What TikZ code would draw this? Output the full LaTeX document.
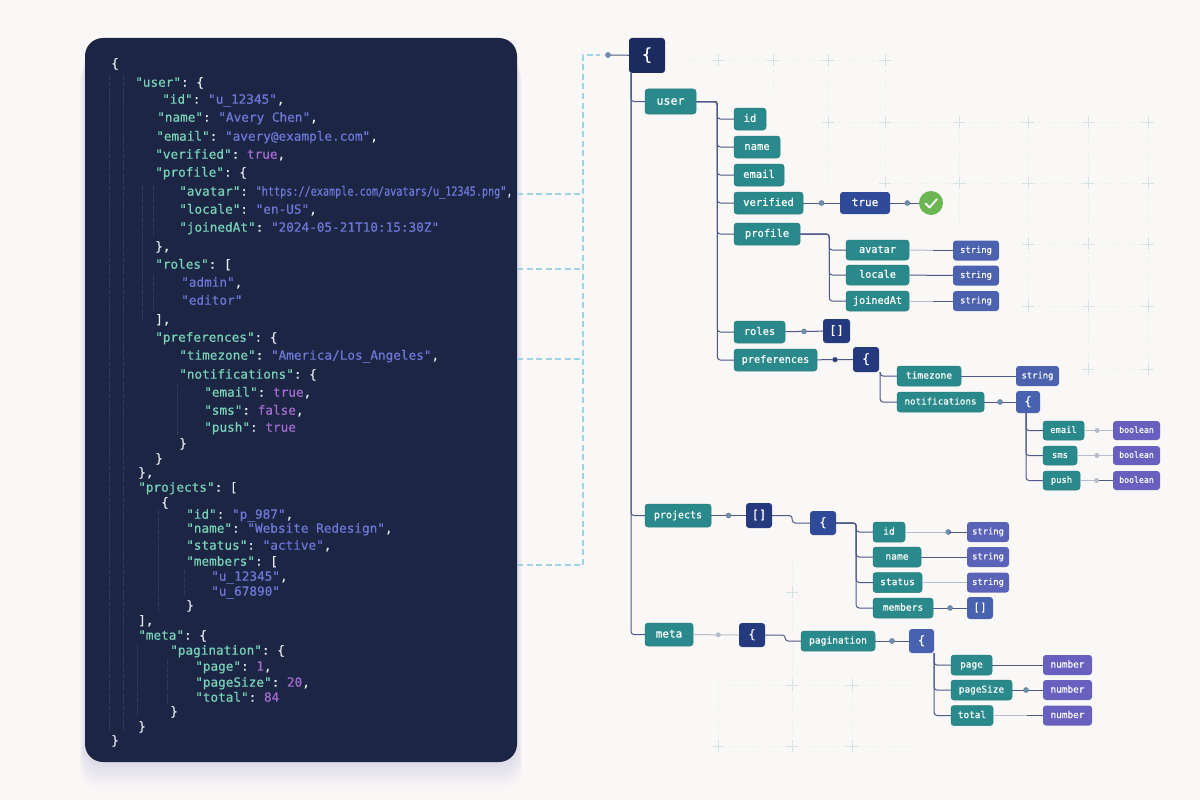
\documentclass[tikz,border=0pt]{standalone}
\usepackage{fontspec}
\setmonofont[FakeBold=0.5]{DejaVu Sans Mono}
\usetikzlibrary{calc}

\definecolor{paper}{HTML}{FAF8F6}
\definecolor{cardfill}{HTML}{1C2544}
\definecolor{jsonkey}{HTML}{79D3B8}
\definecolor{jsonstr}{HTML}{6E78D6}
\definecolor{jsonval}{HTML}{A56CD0}
\definecolor{jsonpunc}{HTML}{E6E9EE}
\definecolor{keyteal}{HTML}{2A8A8B}
\definecolor{navyA}{HTML}{1C2B5E}
\definecolor{navyB}{HTML}{25397F}
\definecolor{navyC}{HTML}{2F4A98}
\definecolor{navyD}{HTML}{4862B0}
\definecolor{strbox}{HTML}{4C62AF}
\definecolor{strboxb}{HTML}{5B63B9}
\definecolor{purplebox}{HTML}{6860BE}
\definecolor{wiredark}{HTML}{2E3C72}
\definecolor{wirelight}{HTML}{B4BDCC}
\definecolor{dashblue}{HTML}{9FD3DF}
\definecolor{gridpale}{HTML}{E8EFEC}
\definecolor{gridplus}{HTML}{D5E4E1}
\definecolor{dotblue}{HTML}{6C93AB}
\definecolor{okgreen}{HTML}{6CB651}

\newcommand{\jk}[1]{\textcolor{jsonkey}{"#1"}:}
\newcommand{\js}[1]{\textcolor{jsonstr}{"#1"}}
\newcommand{\jv}[1]{\textcolor{jsonval}{#1}}
\newcommand{\gridmark}[2]{\draw[gridplusline] (#1-6,#2) -- (#1+6,#2) (#1,#2-6) -- (#1,#2+6);}

\tikzset{
  codeline/.style={anchor=west,inner sep=0pt,text height=11pt,text depth=1.6pt,text=jsonpunc,
                   font=\ttfamily\fontsize{12.7}{13}\selectfont},
  gridline/.style={gridpale,line width=.6pt,dash pattern=on 2pt off 3pt},
  gridplusline/.style={gridplus,line width=.8pt},
  guide/.style={white!9!cardfill,line width=.6pt,dash pattern=on 5pt off 1.5pt},
  sidelink/.style={dashblue,line width=1.1pt,dash pattern=on 6pt off 3.5pt},
  box/.style={rounded corners=3pt,inner sep=0pt,text=white,minimum height=#1},
  keybox/.style={box=#1,fill=keyteal,draw=keyteal!90!black,line width=.5pt},
  fs/.style={font=\ttfamily\fontsize{#1}{#1}\selectfont,text height={.72*#1},text depth={.17*#1}},
  dot/.style={circle,inner sep=0pt,minimum size=5pt,fill=#1,draw=wiredark!70,line width=.5pt},
  dot/.default=dotblue,
  softdot/.style={circle,inner sep=0pt,minimum size=5pt,fill=wirelight},
  wire/.style={wiredark!85,line width=1pt,rounded corners=3pt},
  softwire/.style={wirelight,line width=1pt,rounded corners=3pt},
  elbow/.style={to path={-- ++(#1,0) |- (\tikztotarget)}},
  drop/.style={to path={|- (\tikztotarget)}},
}

\begin{document}
\begin{tikzpicture}[x=1pt,y=-1pt]
\useasboundingbox (0,0) rectangle (1200,800);
\fill[paper] (0,0) rectangle (1200,800);

% background grid
\draw[gridline] (688,60) -- (885,60);
\draw[gridline] (773,60) -- (773,100);
\foreach \gx in {828,885} \draw[gridline] (\gx,60) -- (\gx,185);
\draw[gridline] (828,122) -- (1148,122);
\draw[gridline] (885,183) -- (1148,183);
\draw[gridline] (1028,244) -- (1148,244);
\draw[gridline] (1028,306) -- (1148,306);
\draw[gridline] (1088,369) -- (1148,369);
\draw[gridline] (959,122) -- (959,230);
\draw[gridline] (1028,122) -- (1028,306);
\foreach \gx in {1088,1148} \draw[gridline] (\gx,122) -- (\gx,380);
\draw[gridline] (718,685) -- (912,685);
\draw[gridline] (718,746) -- (912,746);
\draw[gridline] (718,685) -- (718,750);
\draw[gridline] (792,555) -- (792,750);
\draw[gridline] (852,685) -- (852,750);
\foreach \gx/\gy in {718/60,773/60,828/60,885/60,828/122,885/122,959/122,1028/122,1088/122,1148/122,885/183,959/183,1028/183,1088/183,1148/183,1028/244,1088/244,1148/244,1028/306,1088/306,1148/306,1088/369,1148/369,792/592,792/685,852/685,718/746,792/746,852/746} {\gridmark{\gx}{\gy}}

% card with soft shadow
\foreach \s in {1,...,14}
  \fill[navyB,opacity=.009,rounded corners=20pt] (85-.4*\s,38+2*\s) rectangle (517+.4*\s,762+2*\s);
\fill[cardfill,rounded corners=18pt] (85,38) rectangle (517,762);

% indent guides
\draw[guide] (109,75) -- (109,730);
\draw[guide] (123,75) -- (123,730);
\draw[guide] (142,185) -- (142,320);
\draw[guide] (153,185) -- (153,236);
\draw[guide] (153,275) -- (153,312);
\draw[guide] (177,384) -- (177,435);
\draw[guide] (158,510) -- (158,611);
\draw[guide] (184,570) -- (184,595);
\draw[guide] (137,645) -- (137,716);
\draw[guide] (167,660) -- (167,705);

% json text
\node[codeline] (l01) at (111,63) {\{};
\node[codeline] (l02) at (135,82) {\jk{user} \{};
\node[codeline] (l03) at (162,99) {\jk{id} \js{u\_12345},};
\node[codeline] (l04) at (157,117) {\jk{name} \js{Avery Chen},};
\node[codeline] (l05) at (156,136) {\jk{email} \js{avery@example.com},};
\node[codeline] (l06) at (155,154) {\jk{verified} \jv{true},};
\node[codeline] (l07) at (155,172) {\jk{profile} \{};
\node[codeline] (l08) at (179,191) {\jk{avatar} \scalebox{.8}[1]{\js{https://example.com/avatars/u\_12345.png},}};
\node[codeline] (l09) at (179,209) {\jk{locale} \js{en-US},};
\node[codeline] (l10) at (179,227) {\jk{joinedAt} \js{2024-05-21T10:15:30Z}};
\node[codeline] (l11) at (155,246) {\},};
\node[codeline] (l12) at (155,264) {\jk{roles} [};
\node[codeline] (l13) at (181,282) {\js{admin},};
\node[codeline] (l14) at (181,300) {\js{editor}};
\node[codeline] (l15) at (155,319) {],};
\node[codeline] (l16) at (155,337) {\jk{preferences} \{};
\node[codeline] (l17) at (179,355) {\jk{timezone} \js{America/Los\_Angeles},};
\node[codeline] (l18) at (179,374) {\jk{notifications} \{};
\node[codeline] (l19) at (204,392) {\jk{email} \jv{true},};
\node[codeline] (l20) at (204,410) {\jk{sms} \jv{false},};
\node[codeline] (l21) at (204,427) {\jk{push} \jv{true}};
\node[codeline] (l22) at (179,443) {\}};
\node[codeline] (l23) at (155,458) {\}};
\node[codeline] (l24) at (138,472) {\},};
\node[codeline] (l25) at (138,487) {\jk{projects} [};
\node[codeline] (l26) at (161,502) {\{};
\node[codeline] (l27) at (186,514) {\jk{id} \js{p\_987},};
\node[codeline] (l28) at (186,528) {\jk{name} \js{Website Redesign},};
\node[codeline] (l29) at (186,545) {\jk{status} \js{active},};
\node[codeline] (l30) at (186,561) {\jk{members} [};
\node[codeline] (l31) at (211,576) {\js{u\_12345},};
\node[codeline] (l32) at (211,591) {\js{u\_67890}};
\node[codeline] (l33) at (186,605) {\}};
\node[codeline] (l34) at (138,620) {],};
\node[codeline] (l35) at (138,635) {\jk{meta} \{};
\node[codeline] (l36) at (170,650) {\jk{pagination} \{};
\node[codeline] (l37) at (195,666) {\jk{page} \jv{1},};
\node[codeline] (l38) at (195,682) {\jk{pageSize} \jv{20},};
\node[codeline] (l39) at (195,697) {\jk{total} \jv{84}};
\node[codeline] (l40) at (170,711) {\}};
\node[codeline] (l41) at (138,726) {\}};
\node[codeline] (l42) at (111,740) {\}};

% tree nodes
\node[box=35pt,fill=navyA,minimum width=36pt,fs=17] (root) at (647,55.5) {\{};
\node[keybox=25pt,minimum width=51pt,fs=11.6] (user) at (670.5,101.5) {user};
\node[keybox=22pt,minimum width=32pt,fs=10.5] (uid) at (750,119) {id};
\node[keybox=22pt,minimum width=46pt,fs=10.5] (uname) at (757,147) {name};
\node[keybox=22pt,minimum width=50pt,fs=10.5] (uemail) at (759,175) {email};
\node[keybox=22pt,minimum width=69pt,fs=10.5] (uverified) at (768.5,203) {verified};
\node[box=22pt,fill=navyC,minimum width=50pt,fs=11] (vtrue) at (865,203) {true};
\node[circle,fill=okgreen,minimum size=24pt,inner sep=0pt] (vcheck) at (931,203) {};
\node[keybox=22pt,minimum width=66pt,fs=10.5] (uprofile) at (767,234) {profile};
\node[keybox=20pt,minimum width=63pt,fs=10.2] (avatar) at (877.5,250) {avatar};
\node[keybox=20pt,minimum width=63pt,fs=10.2] (locale) at (877.5,275) {locale};
\node[keybox=20pt,minimum width=63pt,fs=10.2] (joined) at (877.5,301) {joinedAt};
\node[box=20pt,fill=strbox,minimum width=46pt,fs=8.8] (stravatar) at (976,250.5) {string};
\node[box=20pt,fill=strbox,minimum width=46pt,fs=8.8] (strlocale) at (976,275.5) {string};
\node[box=20pt,fill=strbox,minimum width=46pt,fs=8.8] (strjoined) at (976,301) {string};
\node[keybox=22pt,minimum width=51pt,fs=10.5] (uroles) at (759.5,332) {roles};
\node[box=24pt,fill=navyB,minimum width=27pt,fs=12] (rolesarr) at (836.5,331) {[]};
\node[keybox=22pt,minimum width=83pt,fs=10.2] (uprefs) at (775.5,360) {preferences};
\node[box=25pt,fill=navyB,minimum width=26pt,fs=13] (prefsobj) at (866,359.5) {\{};
\node[keybox=20pt,minimum width=64pt,fs=9.6] (tzone) at (929,376) {timezone};
\node[box=20pt,fill=strbox,minimum width=43pt,fs=8.8] (strzone) at (1037.5,376) {string};
\node[keybox=20pt,minimum width=87pt,fs=9.2] (notif) at (940.5,402) {notifications};
\node[box=22pt,fill=navyD,minimum width=24pt,fs=12] (notifobj) at (1028,402) {\{};
\node[keybox=19pt,minimum width=41pt,fs=8.8] (nemail) at (1063.5,430.5) {email};
\node[keybox=19pt,minimum width=34pt,fs=8.8] (nsms) at (1060,455.5) {sms};
\node[keybox=19pt,minimum width=37pt,fs=8.8] (npush) at (1061.5,480.5) {push};
\node[box=19pt,fill=purplebox,minimum width=47pt,fs=8.2] (boolemail) at (1136.5,430.5) {boolean};
\node[box=19pt,fill=purplebox,minimum width=47pt,fs=8.2] (boolsms) at (1136.5,455.5) {boolean};
\node[box=19pt,fill=purplebox,minimum width=47pt,fs=8.2] (boolpush) at (1136.5,480.5) {boolean};

\node[keybox=23pt,minimum width=66pt,fs=10] (projects) at (678,515.5) {projects};
\node[box=25pt,fill=navyB,minimum width=26pt,fs=12] (projarr) at (759,515.5) {[]};
\node[box=24pt,fill=navyC,minimum width=26pt,fs=12] (projobj) at (823,523) {\{};
\node[keybox=20pt,minimum width=32pt,fs=9.6] (pid) at (889,532) {id};
\node[keybox=20pt,minimum width=48pt,fs=9.6] (pname) at (897,557) {name};
\node[keybox=20pt,minimum width=49pt,fs=9.6] (pstatus) at (897.5,582.5) {status};
\node[keybox=20pt,minimum width=60pt,fs=9.6] (pmembers) at (903,608) {members};
\node[box=20pt,fill=strboxb,minimum width=42pt,fs=8.8] (strpid) at (988,532) {string};
\node[box=20pt,fill=strboxb,minimum width=42pt,fs=8.8] (strpname) at (988,557) {string};
\node[box=20pt,fill=strboxb,minimum width=42pt,fs=8.8] (strpstatus) at (988,582.5) {string};
\node[box=22pt,fill=navyD,minimum width=26pt,fs=11] (memarr) at (980,608) {[]};
\node[keybox=23pt,minimum width=48pt,fs=11] (meta) at (669,634.5) {meta};
\node[box=24pt,fill=navyB,minimum width=26pt,fs=12] (metaobj) at (752,635) {\{};
\node[keybox=20pt,minimum width=74pt,fs=9.6] (pagin) at (838,641) {pagination};
\node[box=24pt,fill=navyD,minimum width=25pt,fs=12] (paginobj) at (921.5,641) {\{};
\node[keybox=20pt,minimum width=41pt,fs=9.4] (pgpage) at (971.5,665) {page};
\node[keybox=20pt,minimum width=61pt,fs=9.4] (pgsize) at (981.5,690) {pageSize};
\node[keybox=20pt,minimum width=42pt,fs=9.4] (pgtotal) at (972,715.5) {total};
\node[box=20pt,fill=purplebox,minimum width=49pt,fs=9.4] (numpage) at (1067.5,665) {number};
\node[box=20pt,fill=purplebox,minimum width=49pt,fs=9.4] (numsize) at (1067.5,690) {number};
\node[box=20pt,fill=purplebox,minimum width=49pt,fs=9.4] (numtotal) at (1067.5,715.5) {number};

% check mark
\draw[white,line width=1.8pt,line cap=round,line join=round] ($(vcheck)+(-5.5,.5)$) -- ($(vcheck)+(-1.5,4.5)$) -- ($(vcheck)+(6,-4)$);

% dashed links from the json card
\coordinate (lnkcorner) at (583,55);
\coordinate (lnkavatar) at (517,194);
\coordinate (lnkroles) at (517,269);
\coordinate (lnkprefs) at (517,359);
\coordinate (lnkproj) at (517,565);
\draw[sidelink] (lnkproj) -| (lnkcorner) -- (600,55);
\draw[sidelink] (lnkavatar) -- (lnkavatar -| lnkcorner);
\draw[sidelink] (lnkroles) -- (lnkroles -| lnkcorner);
\draw[sidelink] (lnkprefs) -- (lnkprefs -| lnkcorner);
\node[dot] (lnktop) at (608,55) {};

% connectors
\coordinate (roottrunk) at (631,73);
\coordinate (prefstrunk) at (880,372);
\coordinate (notiftrunk) at (1026,413);
\coordinate (pagintrunk) at (934,653);
\path[wire]
  (lnktop) edge (root)
  (roottrunk) edge[drop] (user.west)
  (roottrunk) edge[drop] (projects.west)
  (roottrunk) edge[drop] (meta.west)
  (user.east) edge[elbow=21] (uid.west)
  (user.east) edge[elbow=21] (uname.west)
  (user.east) edge[elbow=21] (uemail.west)
  (user.east) edge[elbow=21] (uverified.west)
  (user.east) edge[elbow=21] (uprofile.west)
  (user.east) edge[elbow=21] (uroles.west)
  (user.east) edge[elbow=21] (uprefs.west)
  (uprofile.east) edge[elbow=29] (avatar.west)
  (uprofile.east) edge[elbow=29] (locale.west)
  (uprofile.east) edge[elbow=29] (joined.west)
  (prefstrunk) edge[drop] (tzone.west)
  (prefstrunk) edge[drop] (notif.west)
  (notiftrunk) edge[drop] (nemail.west)
  (notiftrunk) edge[drop] (nsms.west)
  (notiftrunk) edge[drop] (npush.west)
  (projobj.east) edge[elbow=20] (pid.west)
  (projobj.east) edge[elbow=20] (pname.west)
  (projobj.east) edge[elbow=20] (pstatus.west)
  (projobj.east) edge[elbow=20] (pmembers.west)
  (pagintrunk) edge[drop] (pgpage.west)
  (pagintrunk) edge[drop] (pgsize.west)
  (pagintrunk) edge[drop] (pgtotal.west)
  (projarr.east) edge[elbow=20] (projobj.west)
  (metaobj.east) edge[elbow=20] (pagin.west)
  (uverified) edge node[dot] (dotverified) {} (vtrue)
  (vtrue) edge node[dot,pos=.6] (dottrue) {} (vcheck)
  (uroles) edge node[dot] (dotroles) {} (rolesarr)
  (uprefs) edge node[dot=navyB] (dotprefs) {} (prefsobj)
  (locale) edge (strlocale)
  (tzone) edge (strzone)
  (notif) edge node[dot] (dotnotif) {} (notifobj)
  (projects) edge node[dot] (dotproj) {} (projarr)
  (pname) edge (strpname)
  (pmembers) edge node[dot] (dotmembers) {} (memarr)
  (pagin) edge node[dot] (dotpagin) {} (paginobj)
  (pgpage) edge (numpage)
  (pgsize) edge node[dot,pos=.45] (dotsize) {} (numsize);
\path[softwire]
  (avatar) edge (stravatar)
  (joined) edge (strjoined)
  (nemail) edge node[softdot,pos=.45] (dotnemail) {} (boolemail)
  (nsms) edge node[softdot,pos=.55] (dotnsms) {} (boolsms)
  (npush) edge node[softdot,pos=.5] (dotnpush) {} (boolpush)
  (pid) edge node[dot,pos=.7] (dotpid) {} (strpid)
  (pstatus) edge (strpstatus)
  (meta) edge node[softdot,pos=.55] (dotmeta) {} (metaobj)
  (pgtotal) edge (numtotal);
% darker last stretch of the pale links
\draw[wire] (stravatar.west) -- ++(-20,0);
\draw[wire] (strjoined.west) -- ++(-20,0);
\draw[wire] (boolpush.west) -- ++(-14,0);
\draw[wire] (strpid.west) -- ++(-18,0);
\draw[wire] (numtotal.west) -- ++(-16,0);
\end{tikzpicture}
\end{document}
